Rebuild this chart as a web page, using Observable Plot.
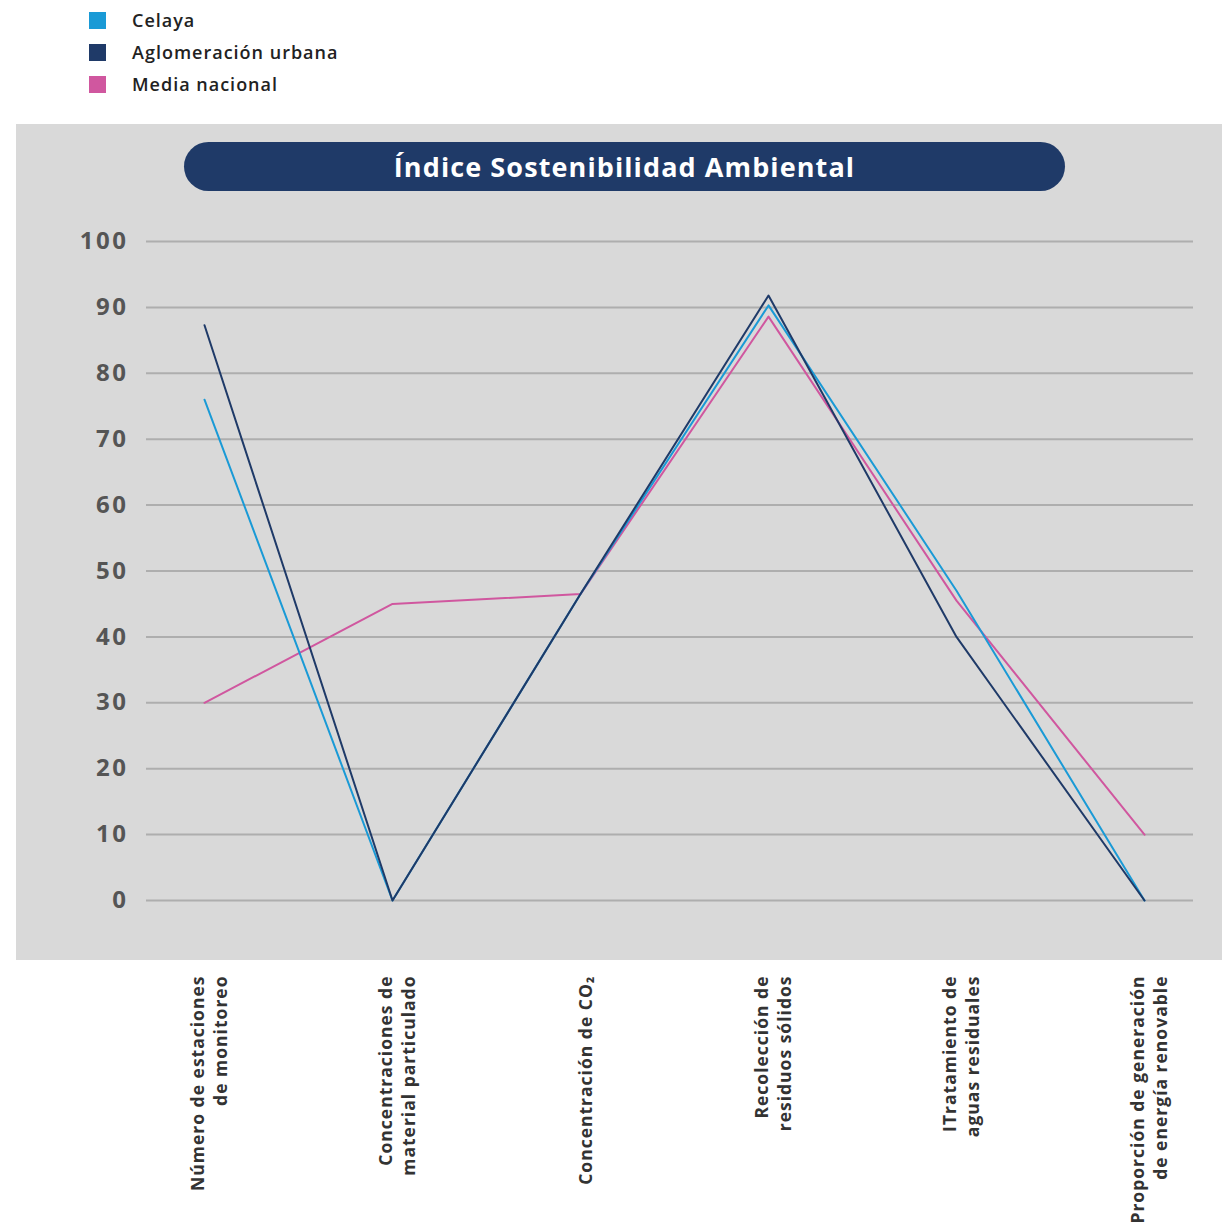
<!DOCTYPE html>
<html>
<head>
<meta charset="utf-8">
<script src="https://cdn.jsdelivr.net/npm/d3@7"></script>
<script src="https://cdn.jsdelivr.net/npm/@observablehq/plot@0.6"></script>
<style>
  html, body { margin: 0; padding: 0; background: #fff; }
  body { width: 1222px; height: 1226px; overflow: hidden; font-family: "Open Sans", "DejaVu Sans", sans-serif; }
  #legend { position: relative; height: 112px; }
  .li { position: absolute; left: 89px; display: flex; align-items: center; font-size: 18px; font-weight: 600; color: #222; letter-spacing: 1px; }
  .sw { width: 17px; height: 17px; margin-right: 26px; }
  #wrap { position: relative; width: 1222px; height: 1114px; }
  #panel { position: absolute; left: 16px; top: 12px; width: 1206px; height: 836px; background: #d9d9d9; }
  #pill { position: absolute; left: 184px; top: 30px; width: 881px; height: 49px; border-radius: 25px; background: #1f3a68;
          color: #fff; font-size: 27px; font-weight: 700; letter-spacing: 1.1px; display: flex; align-items: center; justify-content: center; }
  #chart { position: absolute; left: 0; top: 0; }
  #chart g[aria-label="y-axis tick label"] text { letter-spacing: 2.5px; }
  #chart g[aria-label="text"] text { letter-spacing: 1px; }
</style>
</head>
<body>
<div id="legend"></div>
<div id="wrap">
  <div id="panel"></div>
  <div id="pill"></div>
  <div id="chart"></div>
</div>
<script>
const title = "Índice Sostenibilidad Ambiental";
const categories = [
  "Número de estaciones\nde monitoreo",
  "Concentraciones de\nmaterial particulado",
  "Concentración de CO₂",
  "Recolección de\nresiduos sólidos",
  "ITratamiento de\naguas residuales",
  "Proporción de generación\nde energía renovable"
];
const seriesNames = ["Celaya", "Aglomeración urbana", "Media nacional"];
const seriesColors = ["#1a9ad6", "#1f3a68", "#d0579f"];
const celaya = [76, 0, 46.5, 90.3, 47, 0];
const aglomeracion = [87.3, 0, 46.5, 91.8, 40, 0];
const mediaNacional = [30, 45, 46.5, 88.6, 45.5, 10];
const yTicks = [0, 10, 20, 30, 40, 50, 60, 70, 80, 90, 100];

// legend
const legend = document.getElementById("legend");
seriesNames.forEach((name, i) => {
  const row = document.createElement("div");
  row.className = "li";
  row.style.top = (10 + i * 32 - 2) + "px";
  row.innerHTML = `<span class="sw" style="background:${seriesColors[i]}"></span><span>${name}</span>`;
  legend.appendChild(row);
});
document.getElementById("pill").textContent = title;

// draw order: Media first, then Celaya, then Aglomeración on top
const seriesValues = {"Celaya": celaya, "Aglomeración urbana": aglomeracion, "Media nacional": mediaNacional};
const order = ["Media nacional", "Celaya", "Aglomeración urbana"];
const rows = order.flatMap(s => categories.map((c, i) => ({cat: c, series: s, value: seriesValues[s][i]})));

const chart = Plot.plot({
  width: 1222,
  height: 1114,
  marginTop: 129,
  marginBottom: 326,
  marginLeft: 146,
  marginRight: 29,
  style: {background: "transparent", fontFamily: "'Open Sans', 'DejaVu Sans', sans-serif", fontSize: "24px", fontWeight: 700},
  x: {type: "point", domain: categories, padding: 0, insetLeft: 56, insetRight: 48, axis: null},
  y: {domain: [0, 100], axis: null},
  color: {domain: seriesNames, range: seriesColors},
  marks: [
    Plot.ruleY(yTicks, {stroke: "#aeaeae", strokeWidth: 2}),
    Plot.axisY({ticks: yTicks, tickSize: 0, tickPadding: 18, label: null, fill: "#555", fontSize: 24, fontWeight: 700}),
    Plot.line(rows, {x: "cat", y: "value", z: "series", stroke: "series", strokeWidth: 2}),
    Plot.text(categories, {x: d => d, frameAnchor: "bottom", dy: 75, dx: 4, rotate: -90, textAnchor: "end",
      lineAnchor: "middle", fontSize: 17.5, fontWeight: 700, fill: "#333", lineHeight: 1.3})
  ]
});
document.getElementById("chart").appendChild(chart);
</script>
</body>
</html>
